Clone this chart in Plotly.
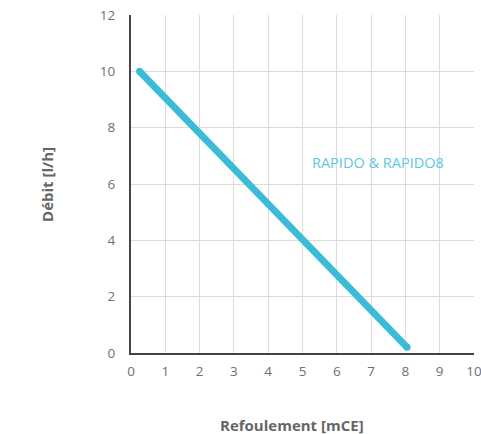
import plotly.graph_objects as go

refoulement = [0.25, 8.05]
debit = [10.0, 0.2]
series_name = "RAPIDO & RAPIDO8"
label_pos = (7.2, 6.75)
x_ticks = list(range(0, 11))
y_ticks = list(range(0, 13, 2))
x_title = "Refoulement [mCE]"
y_title = "Débit [l/h]"

color = "#3bbcd6"
fam = "Open Sans, Lato, sans-serif"
fig = go.Figure()
fig.add_trace(go.Scatter(
    x=refoulement, y=debit, mode="lines+markers",
    line=dict(color=color, width=7),
    marker=dict(color=color, size=7),
    showlegend=False, hoverinfo="skip", cliponaxis=False))

fig.add_annotation(x=label_pos[0], y=label_pos[1], text=series_name, showarrow=False,
                   font=dict(family=fam, size=14.5, color="#5fc7dd"))

axis_font = dict(family=fam, size=13.5, color="#707070")
title_font = dict(family=fam, size=15, color="#666666", weight="bold")

fig.add_annotation(xref="paper", yref="paper", x=0.469, y=-0.213, text=x_title, showarrow=False,
                   font=title_font, xanchor="center", yanchor="middle")
fig.add_annotation(xref="paper", yref="paper", x=-0.245, y=0.5, text=y_title, showarrow=False,
                   font=title_font, textangle=-90, xanchor="center", yanchor="middle")

fig.update_xaxes(range=[0, 10], tickvals=x_ticks, showgrid=True, gridcolor="#dcdcdc", gridwidth=1,
                 showline=True, linecolor="#444444", linewidth=2, zeroline=False, automargin=False,
                 ticks="outside", ticklen=5, tickcolor="rgba(0,0,0,0)", tickfont=axis_font,
                 ticklabeloverflow="allow")
fig.update_yaxes(range=[0, 12], tickvals=y_ticks, showgrid=True, gridcolor="#dcdcdc", gridwidth=1,
                 showline=True, linecolor="#444444", linewidth=2, zeroline=False, automargin=False,
                 ticks="outside", ticklen=11, tickcolor="rgba(0,0,0,0)", tickfont=axis_font,
                 ticklabeloverflow="allow")

fig.update_layout(width=481, height=434, margin=dict(l=131, r=7, t=15, b=81),
                  plot_bgcolor="white", paper_bgcolor="white")
fig.write_html("out.html", config={"displayModeBar": False},
               post_script="document.body.style.margin='0';document.body.style.overflow='hidden';")
